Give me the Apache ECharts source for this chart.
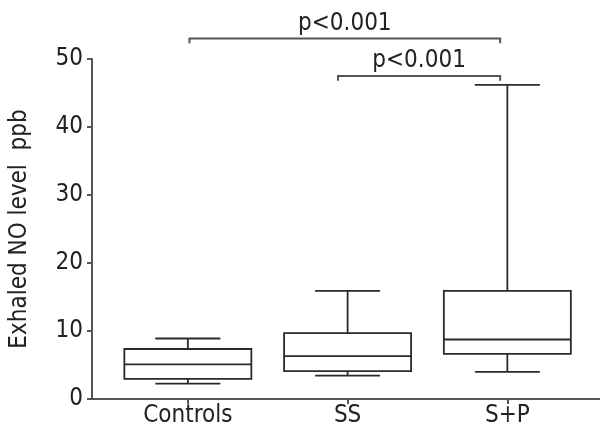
<!DOCTYPE html>
<html>
<head>
<meta charset="utf-8">
<script src="https://cdn.jsdelivr.net/npm/echarts@6/dist/echarts.min.js"></script>
<style>html,body{margin:0;padding:0;background:#fff}#c{width:600px;height:432px}</style>
</head>
<body>
<div id="c"></div>
<script>
var categories = ['Controls', 'SS', 'S+P'];
// [low whisker, Q1, median, Q3, high whisker]
var controlsBox = [2.25, 2.95, 5.1, 7.35, 8.9];
var ssBox = [3.45, 4.1, 6.3, 9.7, 15.9];
var spBox = [4.0, 6.65, 8.75, 15.9, 46.2];
var yTicks = [0, 10, 20, 30, 40, 50];
// brackets: [x start, x end, level y, end y, label]
var bracketTop = [1.01, 2.955, 53.0, 52.3, 'p<0.001'];
var bracketInner = [1.94, 2.955, 47.5, 46.8, 'p<0.001'];

var FONT = '"Liberation Sans Narrow", "DejaVu Sans Condensed", "Liberation Sans", sans-serif';
var boxes = [controlsBox, ssBox, spBox].map(function (b, i) { return [i + 1].concat(b); });
var brackets = [bracketTop, bracketInner];

var chart = echarts.init(document.getElementById('c'));
chart.setOption({
  animation: false,
  grid: { left: 90, right: 0, top: 59, bottom: 33 },
  xAxis: {
    type: 'value', min: 0.4, max: 3.58,
    splitLine: { show: false },
    axisLine: { lineStyle: { color: '#555', width: 2 } },
    axisTick: { show: true, customValues: [1, 2, 3], length: 5, lineStyle: { color: '#555', width: 2 } },
    axisLabel: {
      customValues: [1, 2, 3], margin: 5,
      formatter: function (v) { return categories[Math.round(v) - 1] || ''; },
      fontFamily: FONT, fontSize: 24, color: '#222'
    }
  },
  yAxis: {
    type: 'value', min: 0, max: 50, interval: 10,
    splitLine: { show: false },
    name: 'Exhaled NO level  ppb', nameLocation: 'middle', nameGap: 60,
    nameTextStyle: { fontFamily: FONT, fontSize: 24, color: '#222' },
    axisLine: { show: true, lineStyle: { color: '#555', width: 2 } },
    axisTick: { show: true, length: 5, lineStyle: { color: '#555', width: 2 } },
    axisLabel: {
      margin: 9, fontFamily: FONT, fontSize: 24, color: '#222',
      formatter: function (v) { return yTicks.indexOf(v) >= 0 ? String(v) : ''; }
    }
  },
  series: [{
    type: 'custom',
    data: boxes,
    renderItem: function (params, api) {
      var x = api.value(0);
      var lo = api.coord([x, api.value(1)]);
      var q1 = api.coord([x, api.value(2)]);
      var md = api.coord([x, api.value(3)]);
      var q3 = api.coord([x, api.value(4)]);
      var hi = api.coord([x, api.value(5)]);
      var cx = lo[0];
      var hw = 63.5, cw = 32.5;
      var st = { stroke: '#2a2a2a', lineWidth: 1.8, fill: null };
      return {
        type: 'group',
        children: [
          { type: 'rect', shape: { x: cx - hw, y: q3[1], width: hw * 2, height: q1[1] - q3[1] }, style: { stroke: '#2a2a2a', lineWidth: 1.8, fill: 'rgba(0,0,0,0)' } },
          { type: 'line', shape: { x1: cx - hw, y1: md[1], x2: cx + hw, y2: md[1] }, style: st },
          { type: 'line', shape: { x1: cx, y1: q3[1], x2: cx, y2: hi[1] }, style: st },
          { type: 'line', shape: { x1: cx, y1: q1[1], x2: cx, y2: lo[1] }, style: st },
          { type: 'line', shape: { x1: cx - cw, y1: hi[1], x2: cx + cw, y2: hi[1] }, style: st },
          { type: 'line', shape: { x1: cx - cw, y1: lo[1], x2: cx + cw, y2: lo[1] }, style: st }
        ]
      };
    }
  }, {
    type: 'custom',
    data: brackets.map(function (b) { return b.slice(0, 4); }),
    clip: false,
    renderItem: function (params, api) {
      var a = api.coord([api.value(0), api.value(2)]);
      var b = api.coord([api.value(1), api.value(2)]);
      var e = api.coord([api.value(0), api.value(3)]);
      var label = brackets[params.dataIndex][4];
      return {
        type: 'group',
        children: [
          { type: 'polyline', shape: { points: [[a[0], e[1]], a, b, [b[0], e[1]]] }, style: { stroke: '#555', lineWidth: 2, fill: null } },
          { type: 'text', style: { text: label, x: (a[0] + b[0]) / 2, y: a[1] - 3, align: 'center', verticalAlign: 'bottom', fontFamily: FONT, fontSize: 24, fill: '#222' } }
        ]
      };
    }
  }]
});
</script>
</body>
</html>
